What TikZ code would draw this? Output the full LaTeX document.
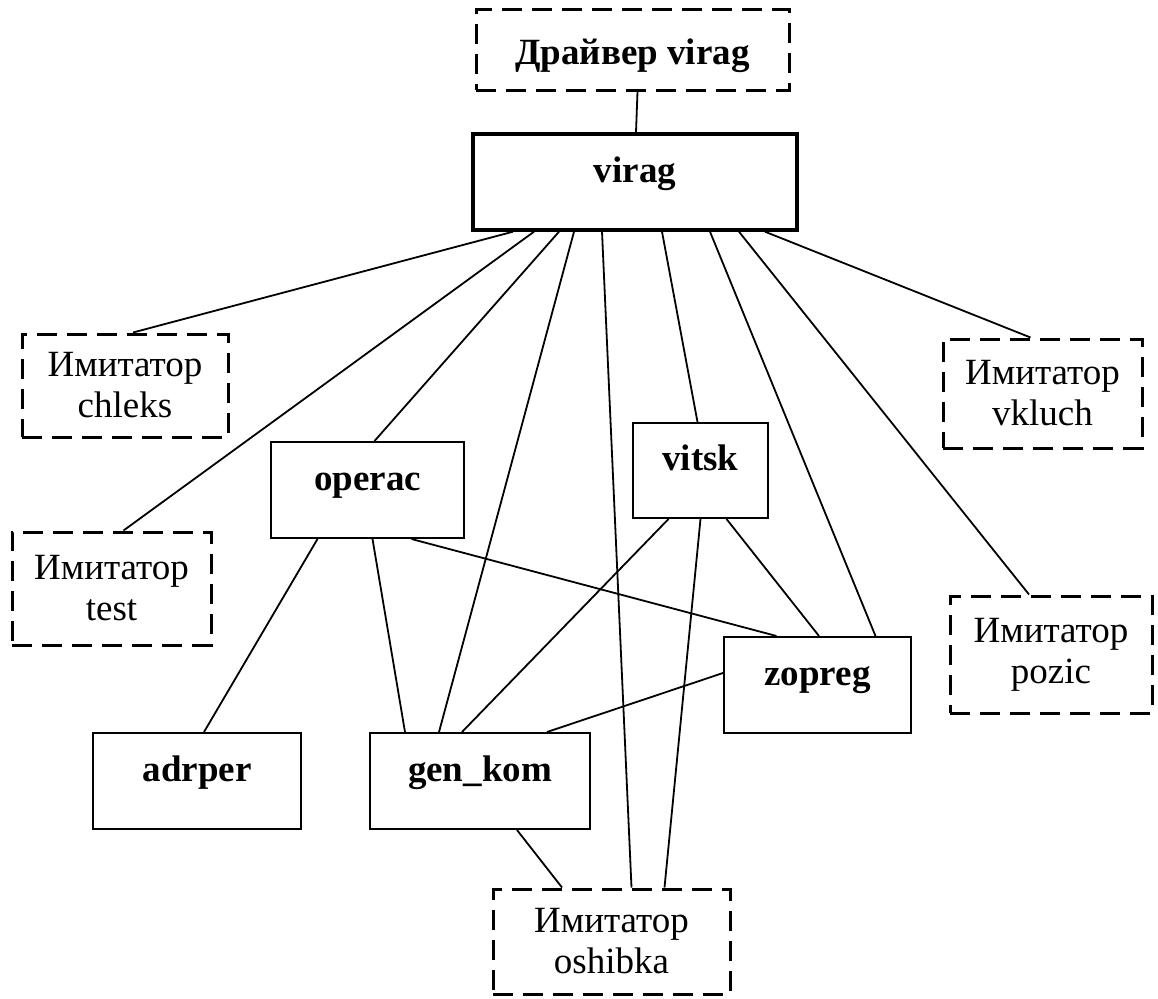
\documentclass[tikz,border=0pt]{standalone}
\usepackage{fontspec}
\setmainfont{Liberation Serif}
\begin{document}
\begin{tikzpicture}[x=1pt, y=-1pt,
  modbox/.style={draw, line width=2pt, inner sep=0pt, font=\fontsize{37}{41}\selectfont\bfseries, text height=12pt, text depth=12pt},
  dashbox/.style={draw, line width=3pt, dash pattern=on 20pt off 10pt, inner sep=0pt},
  imitbox/.style={dashbox, align=center, font=\fontsize{37}{41}\selectfont},
  link/.style={line width=1.8pt}]
\useasboundingbox (0,0) rectangle (1158,998);
\node[dashbox, minimum width=313pt, minimum height=80pt, font=\fontsize{37}{41}\selectfont\bfseries, text height=30pt, text depth=2pt] (drv) at (632.5,50) {Драйвер virag};
\node[modbox, line width=3.4pt, minimum width=324pt, minimum height=96pt] (virag) at (635,182) {virag};
\node[imitbox, minimum width=206pt, minimum height=103pt] (chleks) at (125,385.5) {Имитатор\\chleks};
\node[imitbox, minimum width=199pt, minimum height=113pt] (test) at (111.5,588.5) {Имитатор\\test};
\node[imitbox, minimum width=199pt, minimum height=109pt] (vkluch) at (1042.5,393.5) {Имитатор\\vkluch};
\node[imitbox, minimum width=202pt, minimum height=117pt] (pozic) at (1051,654.5) {Имитатор\\pozic};
\node[imitbox, minimum width=237pt, minimum height=105pt] (oshibka) at (611.5,941.5) {Имитатор\\oshibka};
\node[modbox, minimum width=193pt, minimum height=96pt] (operac) at (367.5,490) {operac};
\node[modbox, minimum width=135pt, minimum height=95pt] (vitsk) at (700.5,470.5) {vitsk};
\node[modbox, minimum width=187pt, minimum height=96pt] (zopreg) at (817.5,685) {zopreg};
\node[modbox, minimum width=208pt, minimum height=96pt] (adrper) at (197,781) {adrper};
\node[modbox, minimum width=220pt, minimum height=96pt] (genkom) at (480,781) {gen\_kom};

\draw[link] ([xshift=5]drv.south) -- ([xshift=1]virag.north);
\draw[link] ([xshift=-122]virag.south) -- ([xshift=8]chleks.north);
\draw[link] ([xshift=-101]virag.south) -- ([xshift=12]test.north);
\draw[link] ([xshift=-76]virag.south) -- ([xshift=7]operac.north);
\draw[link] ([xshift=-61]virag.south) -- ([xshift=-41]genkom.north);
\draw[link] ([xshift=-33]virag.south) -- ([xshift=20]oshibka.north);
\draw[link] ([xshift=27]virag.south) -- ([xshift=-3]vitsk.north);
\draw[link] ([xshift=75]virag.south) -- ([xshift=58]zopreg.north);
\draw[link] ([xshift=104]virag.south) -- ([xshift=-22]pozic.north);
\draw[link] ([xshift=130]virag.south) -- ([xshift=-12]vkluch.north);
\draw[link] ([xshift=-50]operac.south) -- ([xshift=7]adrper.north);
\draw[link] ([xshift=5]operac.south) -- ([xshift=-75]genkom.north);
\draw[link] ([xshift=44]operac.south) -- ([xshift=-41]zopreg.north);
\draw[link] ([xshift=-32]vitsk.south) -- ([xshift=-18]genkom.north);
\draw[link] (vitsk.south) -- ([xshift=53]oshibka.north);
\draw[link] ([xshift=26]vitsk.south) -- ([xshift=1.5]zopreg.north);
\draw[link] ([yshift=12]zopreg.west) -- ([xshift=67]genkom.north);
\draw[link] ([xshift=37]genkom.south) -- ([xshift=-49.5]oshibka.north);
\end{tikzpicture}
\end{document}
